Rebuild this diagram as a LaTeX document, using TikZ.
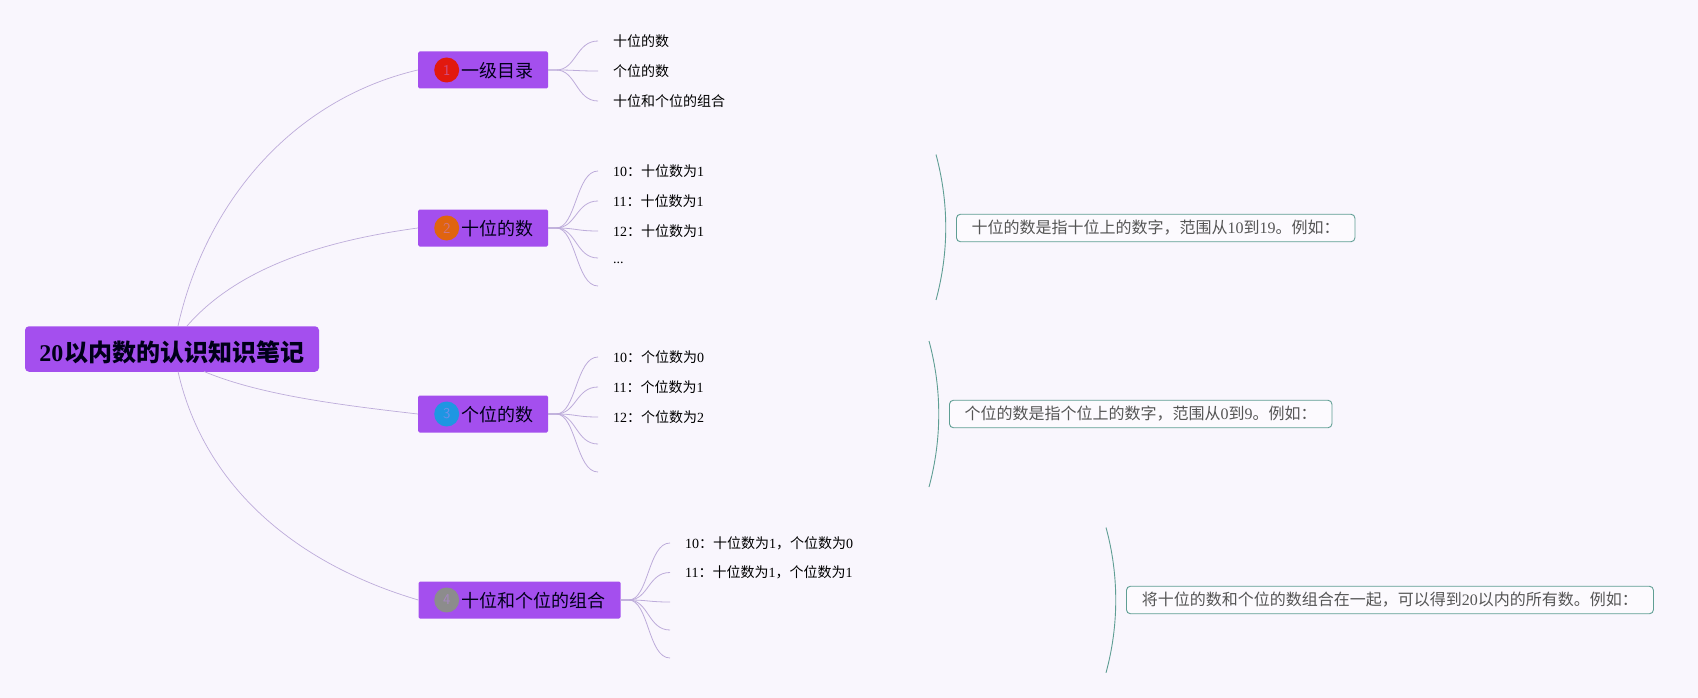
\documentclass[tikz,border=0pt]{standalone}
\usepackage{fontspec}
\setmainfont{Liberation Serif}
\newfontfamily\cjk{Noto Sans CJK SC}
\usepackage{tikz}
\definecolor{paper}{HTML}{F9F6FD}
\definecolor{topicfill}{HTML}{A44FEE}
\definecolor{branchline}{HTML}{BDACDA}
\definecolor{noteline}{HTML}{5F9E94}
\definecolor{notetext}{HTML}{555555}
\definecolor{markred}{HTML}{E2190E}
\definecolor{markorange}{HTML}{E0640F}
\definecolor{markblue}{HTML}{1E96E2}
\definecolor{markgrey}{HTML}{8C8C8C}
\tikzset{
  roottopic/.style={fill=topicfill,rounded corners=4pt,minimum width=294pt,minimum height=45.5pt,inner sep=0pt,font=\fontsize{24}{26}\selectfont\bfseries,text=black!90!blue},
  topicbox/.style={fill=topicfill,rounded corners=1.5pt,minimum height=37pt,inner sep=0pt},
  topictext/.style={anchor=west,inner sep=0pt,yshift=-1pt,font=\fontsize{18}{20}\selectfont\cjk,text=black!90!blue},
  badge/.style={circle,minimum size=25pt,inner sep=0pt,font=\fontsize{15}{16}\sffamily,text=topicfill!70!white,text opacity=.5},
  leaf/.style={anchor=west,inner xsep=15pt,inner ysep=0pt,font=\fontsize{14}{16}\selectfont,text=black},
  twig/.style={draw=branchline,line width=.8pt},
  limb/.style={draw=branchline,line width=.7pt},
  notebox/.style={draw=noteline,fill=paper!50!white,rounded corners=4pt,line width=.9pt,minimum height=27.5pt,inner sep=0pt,anchor=west,font=\fontsize{16}{18}\selectfont,text=notetext},
  bow/.style={draw=noteline,line width=.9pt}
}
\begin{document}
\begin{tikzpicture}[x=1pt,y=-1pt]
    \useasboundingbox[fill=paper] (0,0) rectangle (1698,698);

    \node[roottopic] (root) at (172,349) {\rule{0pt}{27pt}20\hspace{1.5pt}{\cjk 以内数的认识知识笔记}};
    \coordinate (rootA) at (178,326);
    \coordinate (rootB) at (187,326);
    \coordinate (rootC) at (204,371.5);
    \coordinate (rootD) at (178,371.5);

    % first topic
    \begin{scope}[yshift=-70pt]
      \node[topicbox,minimum width=130pt] (one) at (483,0) {};
      \node[badge,fill=markred] (oneMark) at (446.7,0) {1};
      \node[topictext] (oneT) at (461,0) {一级目录};
      \node[leaf] (oneA) at (598,-29) {\cjk 十位的数};
      \node[leaf] (oneB) at (598,1) {\cjk 个位的数};
      \node[leaf] (oneC) at (598,31) {\cjk 十位和个位的组合};
      \draw[twig] (one.east) -- +(8,0) .. controls +(20,0) and +(-22,0) .. (oneA.west);
      \draw[twig] (one.east) -- +(8,0) .. controls +(20,0) and +(-22,0) .. (oneB.west);
      \draw[twig] (one.east) -- +(8,0) .. controls +(20,0) and +(-22,0) .. (oneC.west);
    \end{scope}

    % second topic
    \begin{scope}[yshift=-228pt]
      \node[topicbox,minimum width=130pt] (two) at (483,0) {};
      \node[badge,fill=markorange] (twoMark) at (446.7,0) {2};
      \node[topictext] (twoT) at (461,0) {\cjk 十位的数};
      \node[leaf] (twoA) at (598,-57) {10{\cjk ：十位数为}1};
      \node[leaf] (twoB) at (598,-27) {11{\cjk ：十位数为}1};
      \node[leaf] (twoC) at (598,3) {12{\cjk ：十位数为}1};
      \node[leaf] (twoD) at (598,35) {...};
      \coordinate (twoDend) at (598,30);
      \coordinate (twoE) at (598,58);
      \draw[twig] (two.east) -- +(8,0) .. controls +(20,0) and +(-22,0) .. (twoA.west);
      \draw[twig] (two.east) -- +(8,0) .. controls +(20,0) and +(-22,0) .. (twoB.west);
      \draw[twig] (two.east) -- +(8,0) .. controls +(20,0) and +(-22,0) .. (twoC.west);
      \draw[twig] (two.east) -- +(8,0) .. controls +(20,0) and +(-22,0) .. (twoDend);
      \draw[twig] (two.east) -- +(8,0) .. controls +(20,0) and +(-22,0) .. (twoE);
      \coordinate (twoUp) at (936,-73.5);
      \coordinate (twoDn) at (936,72);
      \draw[bow] (twoUp) .. controls (949,-25) and (949,24) .. (twoDn);
      \node[notebox,minimum width=398.5pt] (twoN) at (956,0) {\cjk 十位的数是指十位上的数字，范围从{\rmfamily 10}到{\rmfamily 19}。例如：};
    \end{scope}

    % third topic
    \begin{scope}[yshift=-414pt]
      \node[topicbox,minimum width=130pt] (three) at (483,0) {};
      \node[badge,fill=markblue] (threeMark) at (446.7,0) {3};
      \node[topictext] (threeT) at (461,0) {\cjk 个位的数};
      \node[leaf] (threeA) at (598,-57) {10{\cjk ：个位数为}0};
      \node[leaf] (threeB) at (598,-27) {11{\cjk ：个位数为}1};
      \node[leaf] (threeC) at (598,3) {12{\cjk ：个位数为}2};
      \coordinate (threeD) at (598,30);
      \coordinate (threeE) at (598,58);
      \draw[twig] (three.east) -- +(8,0) .. controls +(20,0) and +(-22,0) .. (threeA.west);
      \draw[twig] (three.east) -- +(8,0) .. controls +(20,0) and +(-22,0) .. (threeB.west);
      \draw[twig] (three.east) -- +(8,0) .. controls +(20,0) and +(-22,0) .. (threeC.west);
      \draw[twig] (three.east) -- +(8,0) .. controls +(20,0) and +(-22,0) .. (threeD);
      \draw[twig] (three.east) -- +(8,0) .. controls +(20,0) and +(-22,0) .. (threeE);
      \coordinate (threeUp) at (929,-73);
      \coordinate (threeDn) at (929,73);
      \draw[bow] (threeUp) .. controls (942,-25) and (942,25) .. (threeDn);
      \node[notebox,minimum width=382.5pt] (threeN) at (949,0) {\cjk 个位的数是指个位上的数字，范围从{\rmfamily 0}到{\rmfamily 9}。例如：};
    \end{scope}

    % fourth topic
    \begin{scope}[yshift=-600pt]
      \node[topicbox,minimum width=202pt] (four) at (519.5,0) {};
      \node[badge,fill=markgrey] (fourMark) at (446.7,0) {4};
      \node[topictext] (fourT) at (461,0) {\cjk 十位和个位的组合};
      \node[leaf] (fourA) at (670,-57) {10{\cjk ：十位数为}1{\cjk ，个位数为}0};
      \node[leaf] (fourB) at (670,-27.5) {11{\cjk ：十位数为}1{\cjk ，个位数为}1};
      \coordinate (fourC) at (670,2);
      \coordinate (fourD) at (670,30);
      \coordinate (fourE) at (670,58);
      \draw[twig] (four.east) -- +(8,0) .. controls +(20,0) and +(-22,0) .. (fourA.west);
      \draw[twig] (four.east) -- +(8,0) .. controls +(20,0) and +(-22,0) .. (fourB.west);
      \draw[twig] (four.east) -- +(8,0) .. controls +(20,0) and +(-22,0) .. (fourC);
      \draw[twig] (four.east) -- +(8,0) .. controls +(20,0) and +(-22,0) .. (fourD);
      \draw[twig] (four.east) -- +(8,0) .. controls +(20,0) and +(-22,0) .. (fourE);
      \coordinate (fourUp) at (1106,-72.5);
      \coordinate (fourDn) at (1106,72.8);
      \draw[bow] (fourUp) .. controls (1119,-25) and (1119,25) .. (fourDn);
      \node[notebox,minimum width=527pt] (fourN) at (1126,0) {\cjk 将十位的数和个位的数组合在一起，可以得到{\rmfamily 20}以内的所有数。例如：};
    \end{scope}

    \draw[limb] (rootA) .. controls (205,205) and (290,100) .. (one.west);
    \draw[limb] (rootB) .. controls (240,265) and (330,240) .. (two.west);
    \draw[limb] (rootC) .. controls (260,395) and (340,405) .. (three.west);
    \draw[limb] (rootD) .. controls (205,490) and (300,565) .. (four.west);
  \end{tikzpicture}
\end{document}
